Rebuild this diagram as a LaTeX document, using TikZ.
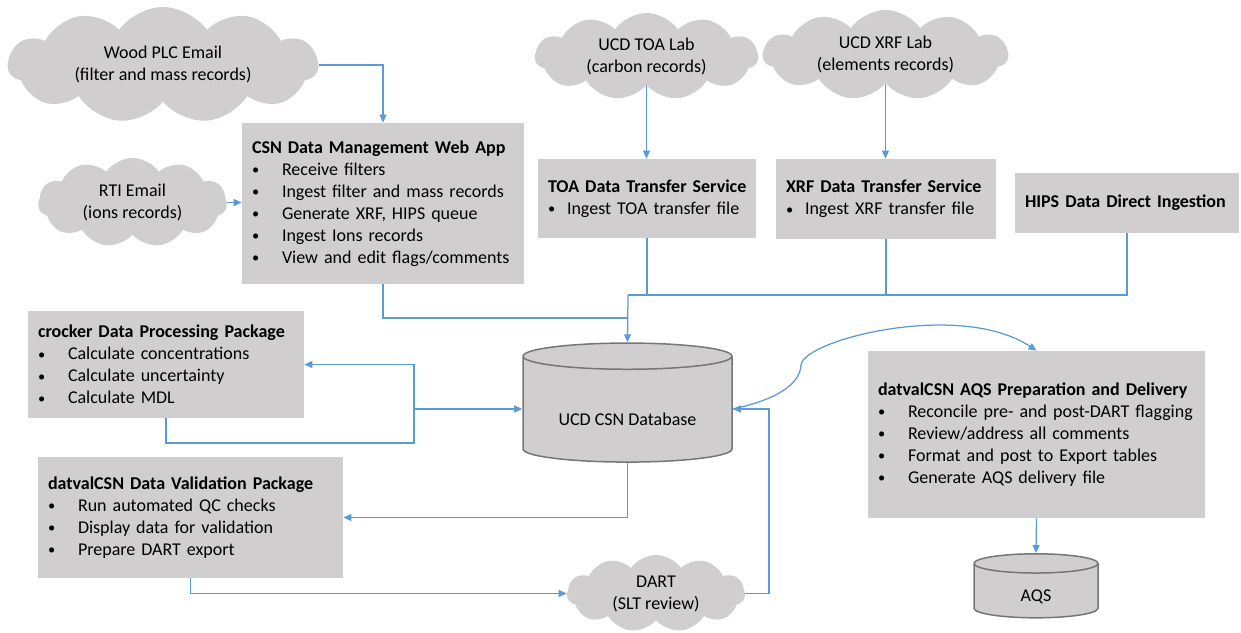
\documentclass[tikz,border=0pt]{standalone}
\usepackage{fontspec}
\setmainfont{Carlito}
\usetikzlibrary{shapes.geometric,shapes.symbols,arrows.meta}
\definecolor{boxgray}{RGB}{208,206,206}
\definecolor{linkblue}{RGB}{91,155,213}
\definecolor{rimgray}{RGB}{118,118,118}
\newcommand{\dotmark}{\raisebox{0.4pt}{\scalebox{0.8}{\textbullet}}}
\newcommand{\bul}{\makebox[18pt][l]{\dotmark}}
\newcommand{\sbul}{\makebox[11.4pt][l]{\dotmark}}
\newcommand{\ttl}[1]{\mbox{\textbf{#1}}}

\begin{document}
\begin{tikzpicture}[x=0.6pt, y=-0.6pt,
  every node/.style={font=\fontsize{10.8}{13.2}\selectfont},
  every label/.style={font=\fontsize{10.8}{13.2}\selectfont},
  proc/.style={rectangle, fill=boxgray, align=left, inner xsep=6pt, inner ysep=0pt},
  src/.style={cloud, cloud puffs=11, cloud puff arc=110, cloud ignores aspect, fill=boxgray, align=center, inner sep=0pt},
  store/.style={cylinder, shape border rotate=90, draw=rimgray, line width=0.9pt, fill=boxgray, inner sep=0pt},
  arrow/.style={-{Triangle[length=4.8pt, width=4.2pt]}, draw=linkblue, line width=0.75pt},
  link/.style={draw=linkblue, line width=0.75pt},
]
\useasboundingbox (0,0) rectangle (1241,633);

% === Sources ===
\node[src, minimum width=186pt, minimum height=69.6pt] (wood) at (163,65) {Wood PLC Email\\(filter and mass records)};
\node[src, minimum width=113.4pt, minimum height=53.4pt] (rti) at (132.5,202.5) {RTI Email\\(ions records)};
\node[src, minimum width=133.8pt, minimum height=52.2pt] (toacl) at (646.5,56.5) {UCD TOA Lab\\(carbon records)};
\node[src, minimum width=147pt, minimum height=54pt] (xrfcl) at (885.5,55) {UCD XRF Lab\\(elements records)};

% === Ingestion ===
\node[proc, minimum height=96.6pt, text width=157.2pt] (csn) at (383,203.5)
  {\ttl{CSN Data Management Web App}\\\bul Receive filters\\\bul Ingest filter and mass records\\\bul Generate XRF, HIPS queue\\\bul Ingest Ions records\\\bul View and edit flags/comments};
\node[proc, minimum height=47.4pt, text width=118.8pt] (toa) at (647,198.5)
  {\ttl{TOA Data Transfer Service}\\\sbul Ingest TOA transfer file};
\node[proc, minimum height=48pt, text width=120pt] (xrf) at (886,199)
  {\ttl{XRF Data Transfer Service}\\\sbul Ingest XRF transfer file};
\node[proc, minimum height=36pt, text width=122.4pt] (hips) at (1127,203)
  {\ttl{HIPS Data Direct Ingestion}};

% === Database and processing ===
\node[store, minimum width=125.4pt, minimum height=71.4pt, aspect=0.19,
  label={[yshift=-6pt]center:UCD CSN Database}] (db) at (627.5,409.5) {\phantom{UCD CSN Database}};
\node[proc, minimum height=64.2pt, text width=153.6pt] (crocker) at (166,364.5)
  {\ttl{crocker Data Processing Package}\\\bul Calculate concentrations\\\bul Calculate uncertainty\\\bul Calculate MDL};
\node[proc, minimum height=72.6pt, text width=171pt] (datval) at (190.5,517.5)
  {\ttl{datvalCSN Data Validation Package}\\\bul Run automated QC checks\\\bul Display data for validation\\\bul Prepare DART export};
\node[src, minimum width=106.8pt, minimum height=46.2pt] (dart) at (656,593.5) {DART\\(SLT review)};

% === Delivery ===
\node[proc, minimum height=100.2pt, text width=190.2pt] (aqsprep) at (1036.5,434.5)
  {\ttl{datvalCSN AQS Preparation and Delivery}\\\bul Reconcile pre- and post-DART flagging\\\bul Review/address all comments\\\bul Format and post to Export tables\\\bul Generate AQS delivery file};
\node[store, minimum width=74.4pt, minimum height=38.4pt, aspect=0.16,
  label={[yshift=-3.6pt]center:AQS}] (aqs) at (1036,591) {\makebox[72pt]{}};

% === Connectors ===
\coordinate (jA) at (628,318);
\coordinate (jB) at (628,295);
\coordinate (cA) at (414,443);
\coordinate (dR) at (769,409);

\draw[arrow] (wood.east) -| (csn.north);
\draw[arrow] (rti.east) -- (rti.east -| csn.west);
\draw[arrow] (toacl.south) -- (toacl.south |- toa.north);
\draw[arrow] (xrfcl.south) -- (xrfcl.south |- xrf.north);
\draw[link] (toa.south) -- (toa.south |- jB);
\draw[link] (xrf.south) -- (xrf.south |- jB);
\draw[link] (hips.south) |- (jB);
\draw[link] (csn.south) |- (jA);
\draw[arrow] (jB) -- (db.north);
\draw[arrow] (crocker.south) |- (cA) |- (crocker.east);
\draw[arrow] (cA |- dR) -- (dR -| db.west);
\draw[arrow] (db.south) |- (datval.east);
\draw[arrow] (datval.south) |- (dart.west);
\draw[arrow] (dart.east) -| (dR) -- (dR -| db.east);
\draw[arrow] (dR -| db.east) .. controls (775,400) and (800,385) .. (801,365)
  .. controls (803,340) and (960,300) .. (aqsprep.north);
\draw[arrow] (aqsprep.south) -- (aqs.north);

\end{tikzpicture}
\end{document}
